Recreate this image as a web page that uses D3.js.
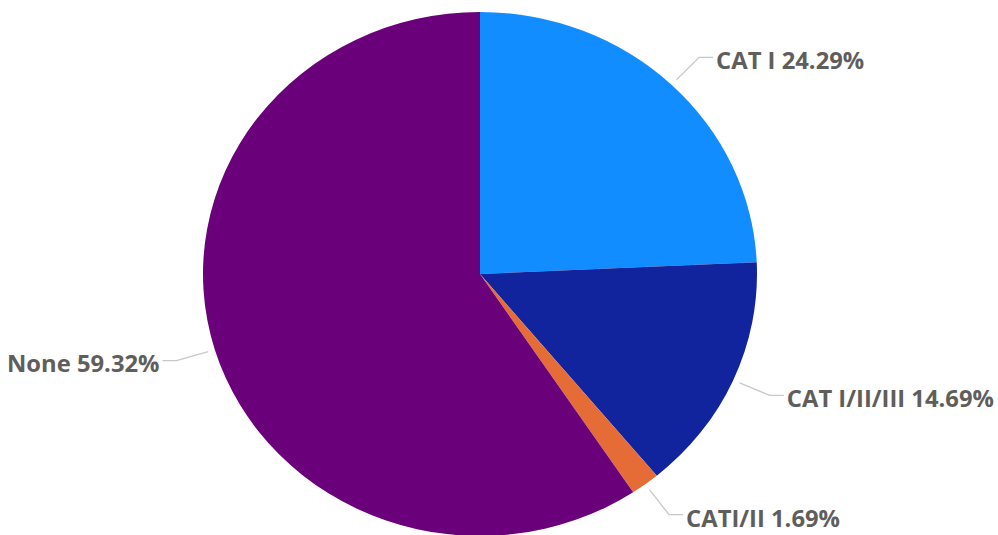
<!DOCTYPE html>
<html>
<head>
<meta charset="utf-8">
<script src="https://cdn.jsdelivr.net/npm/d3@7"></script>
<style>
  html, body { margin: 0; padding: 0; background: #fff; }
  svg { display: block; }
</style>
</head>
<body>
<svg id="chart" width="998" height="535"></svg>
<script>
// Slice categories, shares (%) and fill colours, in clockwise order from 12 o'clock
const categories = ["CAT I", "CAT I/II/III", "CATI/II", "None"];
const shares = [24.29, 14.69, 1.69, 59.32];
const colors = ["#118DFF", "#12239E", "#E66C37", "#6B007B"];

const W = 998, H = 535;
const cx = 480, cy = 274;
const rx = 277, ry = 262;          // the whole view is slightly wider than tall
const sy = ry / rx;
const sx = rx / ry;

const svg = d3.select("#chart");

const data = categories.map((c, i) => ({ name: c, value: shares[i], color: colors[i] }));

const pie = d3.pie().sort(null).value(d => d.value);
const arcs = pie(data);
const arc = d3.arc().innerRadius(0).outerRadius(rx);

const g = svg.append("g").attr("transform", `translate(${cx},${cy}) scale(1,${sy})`);
g.selectAll("path")
  .data(arcs)
  .join("path")
  .attr("d", arc)
  .attr("fill", d => d.data.color);

// Leader lines and labels
const fmt = d3.format(".2f");
const labels = svg.append("g");

arcs.forEach(a => {
  const mid = (a.startAngle + a.endAngle) / 2;
  const s = Math.sin(mid), c = -Math.cos(mid);
  const pt = r => [cx + r * s, cy + r * c * sy];
  const p0 = pt(rx + 7);
  const p1 = pt(rx + 40);
  const dir = s >= 0 ? 1 : -1;
  const p2 = [p1[0] + dir * 14, p1[1]];

  labels.append("polyline")
    .attr("points", [p0, p1, p2].map(p => p.join(",")).join(" "))
    .attr("fill", "none")
    .attr("stroke", "#c8c8c8")
    .attr("stroke-width", 1.3);

  labels.append("text")
    .attr("transform", `translate(${p2[0] + dir * 3},${p2[1] + 4}) scale(${sx},1)`)
    .attr("dy", "0.35em")
    .attr("text-anchor", dir > 0 ? "start" : "end")
    .attr("font-family", "'Open Sans', 'Noto Sans', sans-serif")
    .attr("font-weight", 700)
    .attr("font-size", 22.5)
    .attr("fill", "#605E5C")
    .text(`${a.data.name} ${fmt(a.data.value)}%`);
});
</script>
</body>
</html>
